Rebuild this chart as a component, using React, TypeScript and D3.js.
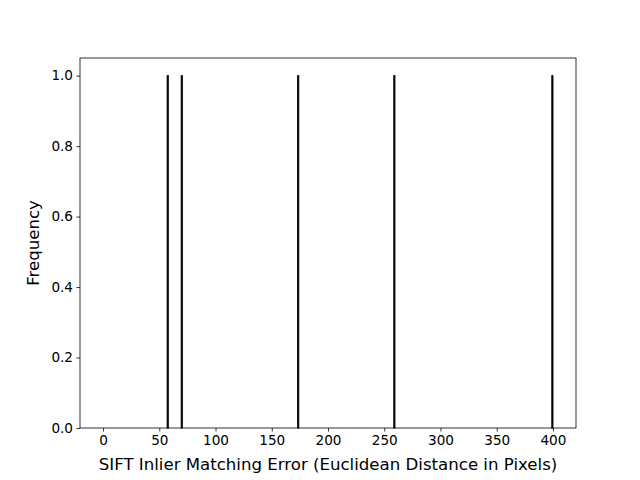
import { useEffect, useRef } from "react"
import * as d3 from "d3"

// histogram bins (centre of each 1-pixel bin) and their counts
const binCenters = [57.5, 70, 173.5, 259, 399.5]
const binCounts = [1, 1, 1, 1, 1]
const binWidth = 1
const xTicks = [0, 50, 100, 150, 200, 250, 300, 350, 400]
const yTicks = [0, 0.2, 0.4, 0.6, 0.8, 1.0]

export default function App() {
  const svgRef = useRef<SVGSVGElement>(null)

  useEffect(() => {
    if (!svgRef.current) return
    const svg = d3.select(svgRef.current)
    svg.selectAll("*").remove()

    const width = 640
    const height = 480
    const margin = { top: 58, right: 64, bottom: 52, left: 80 }
    const innerWidth = width - margin.left - margin.right
    const innerHeight = height - margin.top - margin.bottom

    const g = svg.append("g").attr("transform", `translate(${margin.left},${margin.top})`)

    const x = d3.scaleLinear().domain([-20.5, 420.5]).range([0, innerWidth])
    const y = d3.scaleLinear().domain([0, 1.05]).range([innerHeight, 0])

    // Bars
    binCenters.forEach((c, i) => {
      const x0 = x(c - binWidth / 2)
      const x1 = x(c + binWidth / 2)
      g.append("rect")
        .attr("x", x0)
        .attr("y", y(binCounts[i]))
        .attr("width", x1 - x0)
        .attr("height", y(0) - y(binCounts[i]))
        .attr("fill", "#000")
        .attr("stroke", "#000")
        .attr("stroke-width", 1)
    })

    const font = "DejaVu Sans, sans-serif"

    // X axis
    const xAxis = g.append("g")
      .attr("transform", `translate(0,${innerHeight})`)
      .call(d3.axisBottom(x).tickValues(xTicks).tickSize(3.5).tickPadding(3.5).tickFormat(d => String(d)))
    xAxis.select(".domain").remove()
    xAxis.selectAll("line").attr("stroke", "#000").attr("stroke-width", 0.8)
    xAxis.selectAll("text").attr("fill", "#000").attr("font-size", "13.6px").attr("font-family", font)

    // Y axis
    const yAxis = g.append("g")
      .call(d3.axisLeft(y).tickValues(yTicks).tickSize(3.5).tickPadding(3.5).tickFormat(d3.format(".1f")))
    yAxis.select(".domain").remove()
    yAxis.selectAll("line").attr("stroke", "#000").attr("stroke-width", 0.8)
    yAxis.selectAll("text").attr("fill", "#000").attr("font-size", "13.6px").attr("font-family", font)

    // Frame
    g.append("rect")
      .attr("x", 0)
      .attr("y", 0)
      .attr("width", innerWidth)
      .attr("height", innerHeight)
      .attr("fill", "none")
      .attr("stroke", "#000")
      .attr("stroke-width", 0.8)

    // Labels
    svg.append("text")
      .attr("x", margin.left + innerWidth / 2)
      .attr("y", 470)
      .attr("text-anchor", "middle")
      .attr("font-size", "16.6px")
      .attr("font-family", font)
      .attr("fill", "#000")
      .text("SIFT Inlier Matching Error (Euclidean Distance in Pixels)")

    svg.append("text")
      .attr("transform", `translate(39,${margin.top + innerHeight / 2}) rotate(-90)`)
      .attr("text-anchor", "middle")
      .attr("font-size", "16.6px")
      .attr("font-family", font)
      .attr("fill", "#000")
      .text("Frequency")
  }, [])

  return (
    <div style={{ position: "absolute", left: 0, top: 0, width: 640, height: 480, background: "#fff" }}>
      <svg ref={svgRef} width={640} height={480} />
    </div>
  )
}
